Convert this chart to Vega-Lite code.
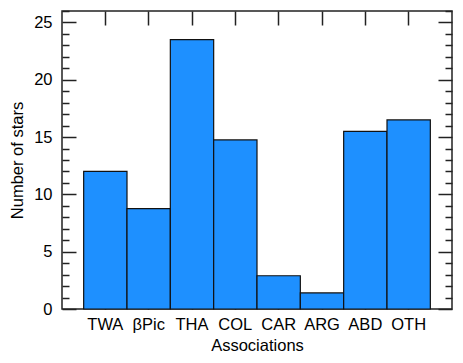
{
  "$schema": "https://vega.github.io/schema/vega-lite/v6.json",
  "width": 390,
  "height": 298,
  "autosize": {"type": "none"},
  "padding": {"left": 62, "top": 11, "right": 11, "bottom": 54},
  "background": "white",
  "config": {
    "font": "Liberation Sans",
    "view": {"stroke": "#222", "strokeWidth": 1.5},
    "axis": {
      "domain": false,
      "grid": false,
      "tickColor": "#222",
      "tickWidth": 1.5,
      "labelFont": "Liberation Sans",
      "labelFontSize": 16.5,
      "labelColor": "#000",
      "titleFont": "Liberation Sans",
      "titleFontSize": 16.5,
      "titleFontWeight": "normal",
      "titleColor": "#000",
      "zindex": 1
    }
  },
  "data": {
    "values": [
      {"association": "TWA", "stars": 12},
      {"association": "βPic", "stars": 8.75},
      {"association": "THA", "stars": 23.5},
      {"association": "COL", "stars": 14.75},
      {"association": "CAR", "stars": 2.9},
      {"association": "ARG", "stars": 1.4},
      {"association": "ABD", "stars": 15.5},
      {"association": "OTH", "stars": 16.5}
    ]
  },
  "layer": [
    {
      "mark": {"type": "bar", "fill": "#1E90FF", "stroke": "#111", "strokeWidth": 1.2},
      "encoding": {
        "x": {
          "field": "association", "type": "nominal", "sort": null,
          "scale": {"paddingInner": 0, "paddingOuter": 0.5},
          "axis": {"orient": "bottom", "title": "Associations", "labelAngle": 0, "tickSize": -14, "labelPadding": 21, "titlePadding": 5}
        },
        "y": {
          "field": "stars", "type": "quantitative",
          "scale": {"domain": [0, 26], "nice": false},
          "axis": {
            "orient": "left", "title": "Number of stars",
            "values": [0,1,2,3,4,5,6,7,8,9,10,11,12,13,14,15,16,17,18,19,20,21,22,23,24,25,26],
            "labelExpr": "datum.value % 5 === 0 ? datum.label : ''",
            "tickSize": {"condition": {"test": "datum.value % 5 === 0", "value": -14}, "value": -7},
            "labelPadding": 24,
            "titlePadding": 8
          }
        }
      }
    },
    {
      "mark": {"type": "bar", "opacity": 0},
      "encoding": {
        "x": {
          "field": "association", "type": "nominal", "sort": null,
          "scale": {"paddingInner": 0, "paddingOuter": 0.5},
          "axis": {"orient": "top", "title": null, "labels": false, "tickSize": -14}
        },
        "y": {
          "field": "stars", "type": "quantitative",
          "scale": {"domain": [0, 26], "nice": false},
          "axis": {
            "orient": "right", "title": null, "labels": false,
            "values": [0,1,2,3,4,5,6,7,8,9,10,11,12,13,14,15,16,17,18,19,20,21,22,23,24,25,26],
            "tickSize": {"condition": {"test": "datum.value % 5 === 0", "value": -14}, "value": -7}
          }
        }
      }
    }
  ],
  "resolve": {"axis": {"x": "independent", "y": "independent"}}
}
